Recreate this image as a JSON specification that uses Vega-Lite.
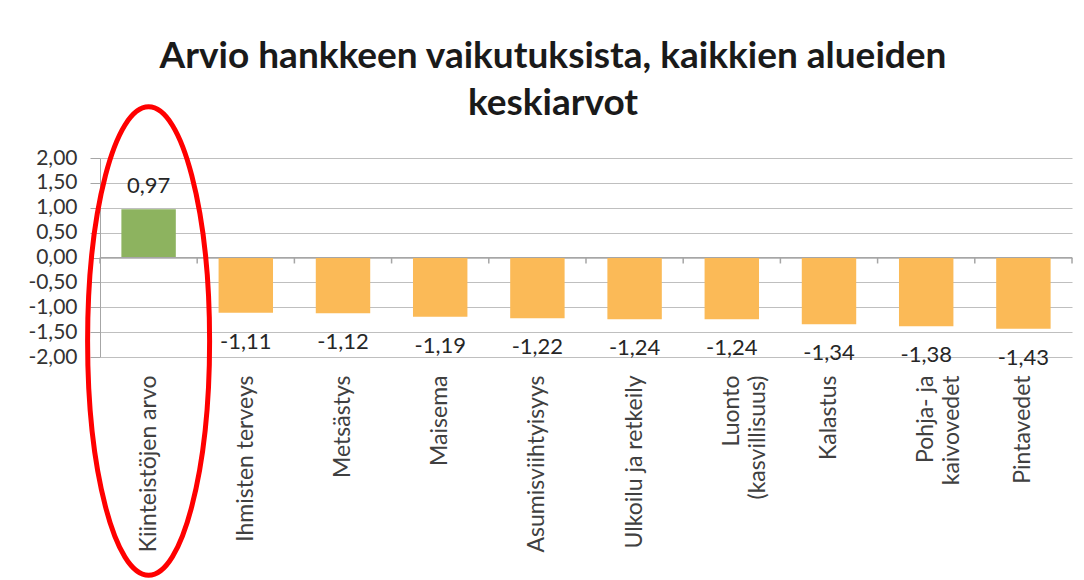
{
  "$schema": "https://vega.github.io/schema/vega-lite/v6.json",
  "width": 972,
  "height": 199,
  "autosize": {"type": "none"},
  "padding": {"left": 100, "top": 158, "right": 12, "bottom": 223},
  "background": "white",
  "config": {
    "locale": {"number": {"decimal": ",", "thousands": " ", "grouping": [3], "currency": ["", " €"], "minus": "-"}},
    "view": {"stroke": null},
    "font": "Lato"
  },
  "title": {
    "text": ["Arvio hankkeen vaikutuksista, kaikkien alueiden", "keskiarvot"],
    "font": "Lato",
    "fontSize": 37,
    "fontWeight": "bold",
    "color": "#1a1a1a",
    "anchor": "middle",
    "frame": "group",
    "dx": -33,
    "offset": -26,
    "lineHeight": 47
  },
  "data": {
    "values": [
      {"category": "Kiinteistöjen arvo", "value": 0.97},
      {"category": "Ihmisten terveys", "value": -1.11},
      {"category": "Metsästys", "value": -1.12},
      {"category": "Maisema", "value": -1.19},
      {"category": "Asumisviihtyisyys", "value": -1.22},
      {"category": "Ulkoilu ja retkeily", "value": -1.24},
      {"category": "Luonto (kasvillisuus)", "value": -1.24},
      {"category": "Kalastus", "value": -1.34},
      {"category": "Pohja- ja kaivovedet", "value": -1.38},
      {"category": "Pintavedet", "value": -1.43}
    ]
  },
  "encoding": {
    "x": {
      "field": "category",
      "type": "nominal",
      "sort": null,
      "scale": {"paddingInner": 0.44, "paddingOuter": 0.22},
      "axis": {
        "title": null,
        "labelAngle": -90,
        "labelFontSize": 23,
        "labelColor": "#404040",
        "labelPadding": 18,
        "labelLimit": 0,
        "labelLineHeight": 26,
        "domain": false,
        "ticks": false,
        "labelExpr": "datum.label == 'Luonto (kasvillisuus)' ? ['Luonto', '(kasvillisuus)'] : datum.label == 'Pohja- ja kaivovedet' ? ['Pohja- ja', 'kaivovedet'] : datum.label"
      }
    },
    "y": {
      "field": "value",
      "type": "quantitative",
      "scale": {"domain": [-2, 2], "nice": false},
      "axis": {
        "title": null,
        "values": [-2, -1.5, -1, -0.5, 0, 0.5, 1, 1.5, 2],
        "format": ".2f",
        "labelOverlap": false,
        "labelFontSize": 21,
        "labelColor": "#333333",
        "gridColor": "#BFBFBF",
        "domainColor": "#A6A6A6",
        "tickColor": "#A6A6A6",
        "tickSize": 10,
        "labelPadding": 13
      }
    }
  },
  "layer": [
    {
      "mark": {"type": "bar"},
      "encoding": {
        "color": {"condition": {"test": "datum.value > 0", "value": "#8DB35F"}, "value": "#FBBA57"}
      }
    },
    {
      "mark": {"type": "rule", "color": "#A6A6A6", "strokeWidth": 1},
      "encoding": {"y": {"datum": 0, "type": "quantitative"}, "x": null}
    },
    {
      "mark": {"type": "rule", "color": "#A6A6A6", "strokeWidth": 1.5},
      "encoding": {
        "x": {"field": "category", "type": "nominal", "sort": null, "bandPosition": -0.393},
        "y": {"datum": 0, "type": "quantitative"},
        "y2": {"datum": -0.12}
      }
    },
    {
      "transform": [{"filter": "datum.category == 'Pintavedet'"}],
      "mark": {"type": "rule", "color": "#A6A6A6", "strokeWidth": 1.5},
      "encoding": {
        "x": {"field": "category", "type": "nominal", "sort": null, "bandPosition": 1.393},
        "y": {"datum": 0, "type": "quantitative"},
        "y2": {"datum": -0.12}
      }
    },
    {
      "transform": [{"filter": "datum.value > 0"}],
      "mark": {"type": "text", "baseline": "bottom", "dy": -11, "fontSize": 22, "color": "#262626"},
      "encoding": {
        "text": {"field": "value", "type": "quantitative", "format": ".2f"}
      }
    },
    {
      "transform": [{"filter": "datum.value < 0"}],
      "mark": {"type": "text", "baseline": "top", "dy": 19, "fontSize": 22, "color": "#262626"},
      "encoding": {
        "text": {"field": "value", "type": "quantitative", "format": ".2f"}
      }
    },
    {
      "data": {"values": [{"category": "Kiinteistöjen arvo", "value": -1.68}]},
      "mark": {
        "type": "point",
        "shape": "M -1 0 A 1 3.84 0 1 0 1 0 A 1 3.84 0 1 0 -1 0 Z",
        "size": 14884,
        "filled": false,
        "stroke": "#FF0000",
        "strokeWidth": 5,
        "opacity": 1
      }
    }
  ]
}
